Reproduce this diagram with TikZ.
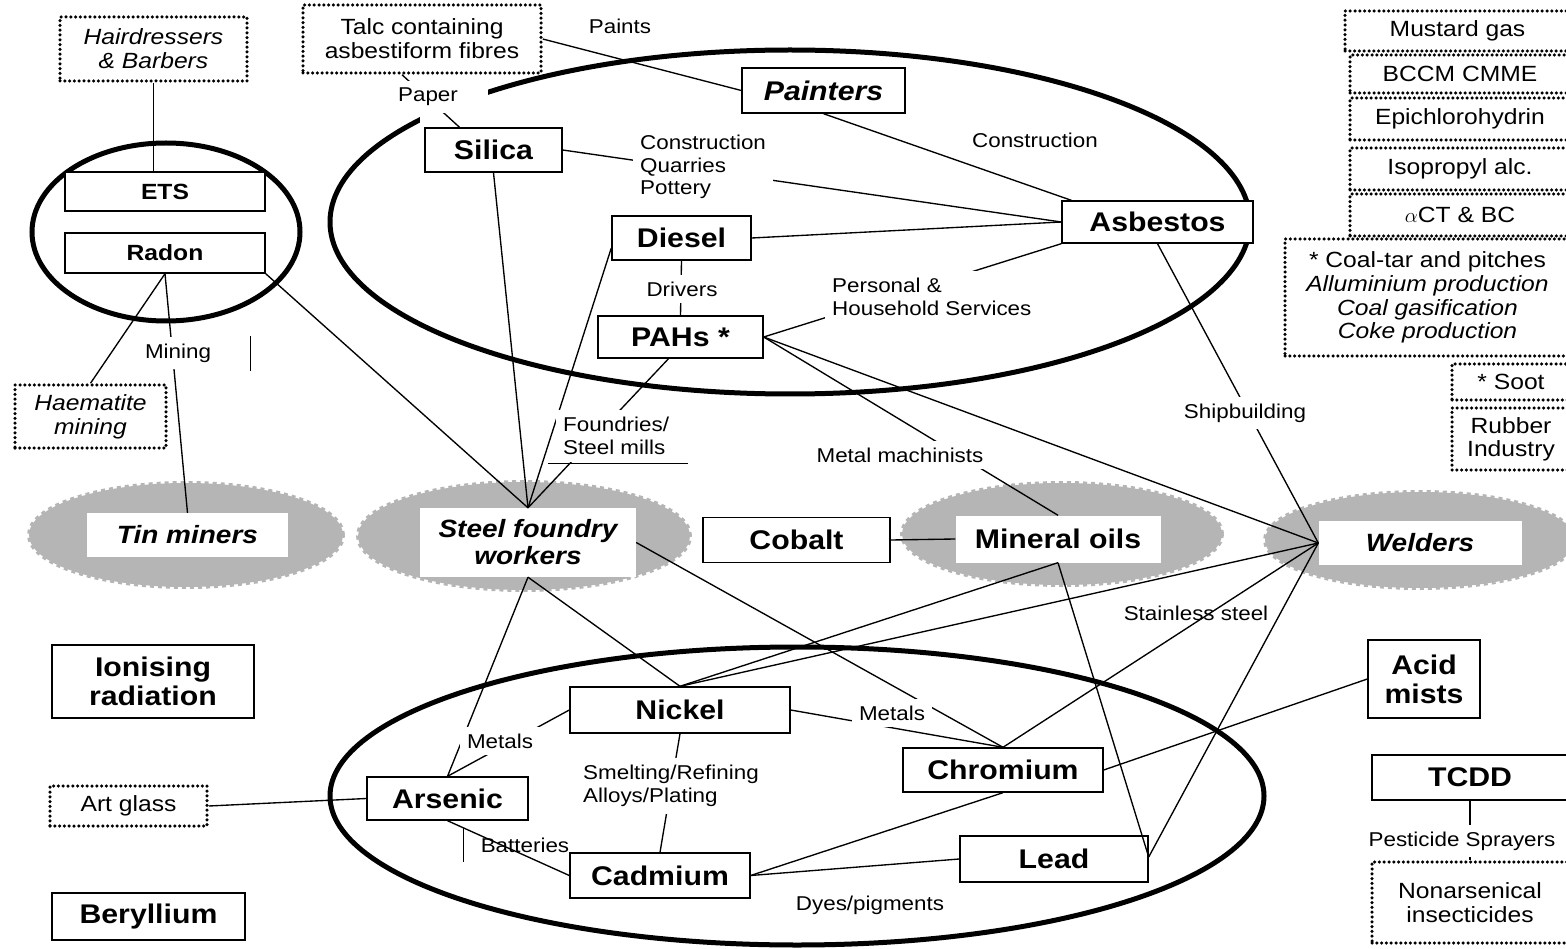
\documentclass[tikz,border=0pt]{standalone}
\usepackage{fontspec}
\setmainfont{Liberation Sans}[FakeStretch=1.12]
\begin{document}
\begin{tikzpicture}[x=1pt,y=-1pt,
 box/.style={draw,line width=1.4pt,fill=white,inner sep=0pt,font=\fontsize{27}{30}\selectfont\bfseries,align=center},
 dbox/.style={draw,line width=3.5pt,dash pattern=on 0pt off 4.8pt,line cap=round,fill=white,inner sep=0pt,font=\fontsize{22}{24}\selectfont,align=center},
 wbox/.style={fill=white,inner sep=0pt,font=\fontsize{25}{27}\selectfont\bfseries\itshape,align=center},
 lab/.style={font=\fontsize{20}{22.5}\selectfont,inner sep=3pt,align=left},
 wlab/.style={lab,fill=white,inner sep=7pt},
 hatch/.style={fill=gray!58,draw=gray!58,line width=4pt,dash pattern=on 4pt off 4pt},
 ring/.style={line width=5pt},
 conn/.style={line width=1.35pt},
 thinl/.style={line width=0.6pt}
]
\useasboundingbox (0,0) rectangle (1566,949);
% hatched ellipses
\path[hatch] (186,535) ellipse [x radius=157pt, y radius=52pt];
\path[hatch] (524,536) ellipse [x radius=166pt, y radius=54pt];
\path[hatch] (1062,534) ellipse [x radius=160pt, y radius=51pt];
\path[hatch] (1420,540) ellipse [x radius=155pt, y radius=48pt];
% rings
\draw[ring] (166,232) ellipse [x radius=134pt, y radius=89pt];
\draw[ring] (790,222) ellipse [x radius=460pt, y radius=172pt];
\draw[ring] (797,796) ellipse [x radius=467pt, y radius=149pt];
\fill[white] (420,85) rectangle (488,125);
% boxes
\node[dbox,minimum width=187pt,minimum height=64pt] (hair) at (153.5,49) {\itshape Hairdressers\\\itshape \& Barbers};
\node[dbox,minimum width=238pt,minimum height=68pt] (talc) at (422,39) {Talc containing\\asbestiform fibres};
\node[box,minimum width=163pt,minimum height=45pt] (painters) at (823.5,90.5) {\itshape Painters};
\node[box,minimum width=137pt,minimum height=44pt] (silica) at (493.5,150) {Silica};
\node[box,minimum width=191pt,minimum height=42pt] (asbestos) at (1157.5,222) {Asbestos};
\node[box,minimum width=139pt,minimum height=44pt] (diesel) at (681.5,238) {Diesel};
\node[box,minimum width=165pt,minimum height=42pt] (pahs) at (680.5,337) {PAHs *};
\node[box,minimum width=200pt,minimum height=39pt,font=\fontsize{22}{24}\selectfont\bfseries] (ets) at (165,191.5) {ETS};
\node[box,minimum width=200pt,minimum height=40pt,font=\fontsize{22}{24}\selectfont\bfseries] (radon) at (165,253) {Radon};
\node[dbox,minimum width=151pt,minimum height=63pt] (haem) at (90.5,416.5) {\itshape Haematite\\\itshape mining};
\node[wbox,minimum width=201pt,minimum height=44pt] (tin) at (187.5,535) {Tin miners};
\node[wbox,minimum width=216pt,minimum height=69pt] (steel) at (528,542.5) {Steel foundry\\workers};
\node[box,minimum width=187pt,minimum height=45pt] (cobalt) at (796.5,540) {Cobalt};
\node[wbox,minimum width=205pt,minimum height=47pt,font=\fontsize{27}{30}\selectfont\bfseries] (mineral) at (1058,539) {Mineral oils};
\node[wbox,minimum width=203pt,minimum height=44pt] (welders) at (1420,543) {Welders};
\coordinate (W) at (welders.west);
% right column
\node[dbox,minimum width=225pt,minimum height=40pt] (mustard) at (1457.5,31) {Mustard gas};
\node[dbox,minimum width=220pt,minimum height=38pt] (bccm) at (1460,74) {BCCM CMME};
\node[dbox,minimum width=220pt,minimum height=42pt] (epi) at (1460,119) {Epichlorohydrin};
\node[dbox,minimum width=220pt,minimum height=42pt] (iso) at (1460,169) {Isopropyl alc.};
\node[dbox,minimum width=220pt,minimum height=42pt] (act) at (1460,215) {$\alpha$CT \& BC};
\node[dbox,minimum width=285pt,minimum height=117pt,font=\fontsize{22}{23.7}\selectfont] (coal) at (1427.5,297.5) {* Coal-tar and pitches\\\itshape Alluminium production\\\itshape Coal gasification\\\itshape Coke production};
\node[dbox,minimum width=118pt,minimum height=36pt] (soot) at (1511,382) {* Soot};
\node[dbox,minimum width=118pt,minimum height=62pt,font=\fontsize{22}{23}\selectfont] (rubber) at (1511,439) {Rubber\\Industry};
% lower boxes
\node[box,minimum width=202pt,minimum height=73pt,font=\fontsize{27}{29}\selectfont\bfseries] (ion) at (153,681.5) {Ionising\\radiation};
\node[box,minimum width=220pt,minimum height=46pt] (nickel) at (680,710) {Nickel};
\node[box,minimum width=112pt,minimum height=78pt,font=\fontsize{27}{29}\selectfont\bfseries] (acid) at (1424,679) {Acid\\mists};
\node[box,minimum width=161pt,minimum height=43pt] (arsenic) at (447.5,798.5) {Arsenic};
\node[dbox,minimum width=157pt,minimum height=40pt] (art) at (128.5,806) {Art glass};
\node[box,minimum width=200pt,minimum height=44pt] (chromium) at (1003,770) {Chromium};
\node[box,minimum width=196pt,minimum height=45pt] (tcdd) at (1470,777.5) {TCDD};
\node[box,minimum width=180pt,minimum height=45pt] (cadmium) at (660,875.5) {Cadmium};
\node[box,minimum width=188pt,minimum height=46pt] (lead) at (1054,859) {Lead};
\node[dbox,minimum width=196pt,minimum height=81pt] (non) at (1470,902.5) {Nonarsenical\\insecticides};
\node[box,minimum width=193pt,minimum height=47pt] (beryl) at (148.5,916.5) {Beryllium};
% connectors
\begin{scope}[conn]
\draw (hair.south) -- (hair.south |- ets.north);
\draw ([xshift=-20pt]talc.south) -- ([xshift=-34pt]silica.north);
\draw (talc.east) -- (painters.west);
\draw (silica.east) -- (asbestos.west);
\draw (painters.south) -- ([xshift=10pt]asbestos.north west);
\draw (diesel.east) -- (asbestos.west);
\draw (pahs.east) -- (asbestos.south west);
\draw (diesel.south) -- (pahs.north);
\draw (radon.south) -- (haem.north);
\draw (radon.south) -- (tin.north);
\draw (radon.south east) -- (steel.north);
\draw (silica.south) -- (steel.north);
\draw ([yshift=-10pt]diesel.west) -- (steel.north);
\draw ([xshift=-12pt]pahs.south) -- (steel.north);
\draw (pahs.east) -- (mineral.north);
\draw (pahs.east) -- (W);
\draw (asbestos.south) -- (W);
\draw (cobalt.east) -- (mineral.west);
\draw (steel.east) -- (chromium.north);
\draw (nickel.east) -- (chromium.north);
\draw (nickel.north) -- (steel.south);
\draw (steel.south) -- (arsenic.north);
\draw (nickel.west) -- (arsenic.north);
\draw (nickel.north) -- (mineral.south);
\draw (nickel.north) -- (W);
\draw (mineral.south) -- ([yshift=2pt]lead.east);
\draw (W) -- ([yshift=2pt]lead.east);
\draw (W) -- (chromium.north);
\draw (chromium.east) -- (acid.west);
\draw (chromium.south) -- (cadmium.east);
\draw (cadmium.east) -- (lead.west);
\draw (art.east) -- (arsenic.west);
\draw (arsenic.south) -- (cadmium.west);
\draw (nickel.south) -- (cadmium.north);
\draw (tcdd.south) -- (non.north);
\end{scope}
% labels
\node[lab] (paints) at (620,26) {Paints};
\node[wlab] (paper) at (428,97) {Paper};
\node[wlab,anchor=west] (cqp) at (633,167) {Construction\\Quarries\\Pottery};
\node[lab] (constr) at (1035,140) {Construction};
\node[wlab] (drivers) at (682,289) {Drivers};
\node[wlab,anchor=west] (pers) at (825,297) {Personal \&\\Household Services};
\node[wlab] (mining) at (178,353) {Mining};
\node[wlab,anchor=west] (found) at (556,436) {Foundries/\\Steel mills};
\node[wlab] (metmach) at (900,455) {Metal machinists};
\node[wlab] (ship) at (1245,413) {Shipbuilding};
\node[wlab] (metals1) at (500,741) {Metals};
\node[wlab] (metals2) at (892,713) {Metals};
\node[lab] (stain) at (1196,613) {Stainless steel};
\node[wlab,anchor=west] (smelt) at (576,786) {Smelting/Refining\\Alloys/Plating};
\node[lab] (batt) at (525,845) {Batteries};
\node[lab] (dyes) at (870,905) {Dyes/pigments};
\node[wlab] (pest) at (1462,841) {Pesticide Sprayers};
% thin artifact lines
\draw[thinl] (250,336) -- (250,371);
\draw[thinl] (548,463) -- (688,463);
\draw[thinl] (463,828) -- (463,862);
\end{tikzpicture}
\end{document}
